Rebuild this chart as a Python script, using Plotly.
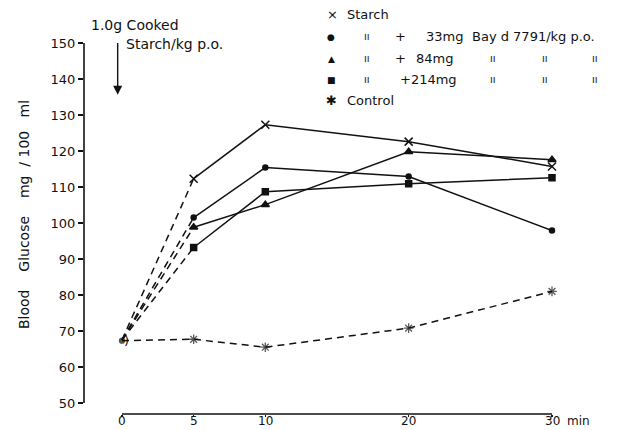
import plotly.graph_objects as go

time_pts = [0, 5, 10, 20, 30]
time_labels = ["0", "5", "10", "20", "30"]
starch = [67.5, 112.3, 127.3, 122.6, 115.7]
dose33 = [67.5, 101.5, 115.4, 112.9, 97.9]
dose84 = [67.5, 98.8, 105.1, 119.8, 117.6]
dose214 = [67.5, 93.2, 108.7, 110.9, 112.6]
control = [67.3, 67.7, 65.5, 70.8, 81.0]
y_ticks = [50, 60, 70, 80, 90, 100, 110, 120, 130, 140, 150]

FONT = "DejaVu Sans"
BLACK = "#111111"
DASH = "7px,5px"

W, H = 624, 430
L, R, T, B = 84, 72, 43, 16
PW, PH = W - L - R, H - T - B

fig = go.Figure()

series = [
    (starch, "x-thin-open", 8),
    (dose33, "circle", 5),
    (dose84, "triangle-up", 7),
    (dose214, "square", 6),
]
for vals, sym, sz in series:
    # dashed initial segment 0 -> 5 min
    fig.add_trace(go.Scatter(x=time_pts[:2], y=vals[:2], mode="lines",
                             line=dict(color=BLACK, width=1.5, dash=DASH),
                             showlegend=False, cliponaxis=False))
    # solid segment 5 -> 30 min
    fig.add_trace(go.Scatter(x=time_pts[1:], y=vals[1:], mode="lines+markers",
                             line=dict(color=BLACK, width=1.5),
                             marker=dict(symbol=sym, size=sz, color=BLACK,
                                         line=dict(color=BLACK, width=1.5)),
                             showlegend=False, cliponaxis=False))

fig.add_trace(go.Scatter(x=time_pts, y=control, mode="lines+markers",
                         line=dict(color=BLACK, width=1.5, dash=DASH),
                         marker=dict(symbol=["circle"] + ["asterisk-open"] * 4,
                                     size=[5, 8, 8, 8, 8], color=BLACK,
                                     line=dict(color=BLACK, width=1.3)),
                         showlegend=False, cliponaxis=False))

# axis lines as shapes (y axis 50..150, x axis 0..30)
fig.add_shape(type="line", xref="paper", yref="y", x0=0, x1=0, y0=y_ticks[0], y1=y_ticks[-1],
              line=dict(color=BLACK, width=1.6))
fig.add_shape(type="line", xref="x", yref="paper", x0=time_pts[0], x1=time_pts[-1], y0=0, y1=0,
              line=dict(color=BLACK, width=1.6))


def px(xp):
    return (xp - L) / PW


def py(yp):
    return (H - B - yp) / PH


ann = []
# x tick labels, placed just under the x axis line
for tv, tl in zip(time_pts, time_labels):
    ann.append(dict(x=tv, y=0, xref="x", yref="paper", text=tl, showarrow=False,
                    yshift=-7, xanchor="center", yanchor="middle", borderpad=0,
                    font=dict(family=FONT, size=12, color=BLACK)))
ann.append(dict(x=time_pts[-1], y=0, xref="x", yref="paper", text="min", showarrow=False,
                xshift=14, yshift=-7, xanchor="left", yanchor="middle", borderpad=0,
                font=dict(family=FONT, size=12, color=BLACK)))
# arrow for dose
ann.append(dict(x=-0.3, y=135.6, ax=-0.3, ay=150.4, xref="x", yref="y", axref="x", ayref="y",
                showarrow=True, arrowhead=2, arrowsize=1.3, arrowwidth=1.4, arrowcolor=BLACK, text=""))
ann.append(dict(x=px(89), y=py(25), xref="paper", yref="paper", text="1.0g Cooked", showarrow=False,
                xanchor="left", yanchor="middle", font=dict(family=FONT, size=14, color=BLACK)))
ann.append(dict(x=px(124), y=py(44), xref="paper", yref="paper", text="Starch/kg p.o.", showarrow=False,
                xanchor="left", yanchor="middle", font=dict(family=FONT, size=14, color=BLACK)))
ann.append(dict(x=time_pts[0], y=control[0], xref="x", yref="y", text=")", showarrow=False,
                xshift=5, font=dict(family=FONT, size=13, color=BLACK)))
ann.append(dict(x=px(24), y=py(215), xref="paper", yref="paper",
                text="Blood    Glucose    mg  / 100   ml",
                textangle=-90, showarrow=False, xanchor="center", yanchor="middle",
                font=dict(family=FONT, size=14, color=BLACK)))

DITTO = "ıı"
legend_rows = [
    (14, [(332, "×"), (345, "Starch")]),
    (37, [(331, "●"), (367, DITTO), (400, "+"), (424, "33mg"), (470, "Bay d 7791/kg p.o.")]),
    (59, [(331, "▲"), (367, DITTO), (400, "+"), (414, "84mg"), (493, DITTO), (545, DITTO), (595, DITTO)]),
    (80, [(331, "■"), (367, DITTO), (398, "+214mg"), (493, DITTO), (545, DITTO), (595, DITTO)]),
    (100, [(331, "✱"), (345, "Control")]),
]
for yp, items in legend_rows:
    for xp, txt in items:
        small = txt in ("●", "▲", "■")
        centered = len(txt) == 1 or txt == DITTO
        ann.append(dict(x=px(xp), y=py(yp), xref="paper", yref="paper", text=txt, showarrow=False,
                        xanchor="center" if centered else "left", yanchor="middle",
                        font=dict(family=FONT, size=9 if small else (10 if txt == DITTO else 13),
                                  color=BLACK)))

fig.update_layout(
    width=W, height=H,
    margin=dict(l=L, r=R, t=T, b=B),
    paper_bgcolor="white", plot_bgcolor="white",
    showlegend=False,
    annotations=ann,
    font=dict(family=FONT, size=13, color=BLACK),
    xaxis=dict(range=[-2.65, 30], tickmode="array", tickvals=time_pts, ticktext=time_labels,
               ticks="outside", ticklen=2, tickwidth=1.4, tickcolor=BLACK, showgrid=False,
               zeroline=False, showline=False, automargin=False, showticklabels=False),
    yaxis=dict(range=[46.94, 150], tickmode="array", tickvals=y_ticks,
               ticks="outside", ticklen=5, tickwidth=1.4, tickcolor=BLACK, showgrid=False,
               zeroline=False, showline=False, automargin=False,
               tickfont=dict(family=FONT, size=13, color=BLACK)),
)

fig.write_html("out.html", config={"staticPlot": True},
               post_script="document.body.style.margin='0px';")
